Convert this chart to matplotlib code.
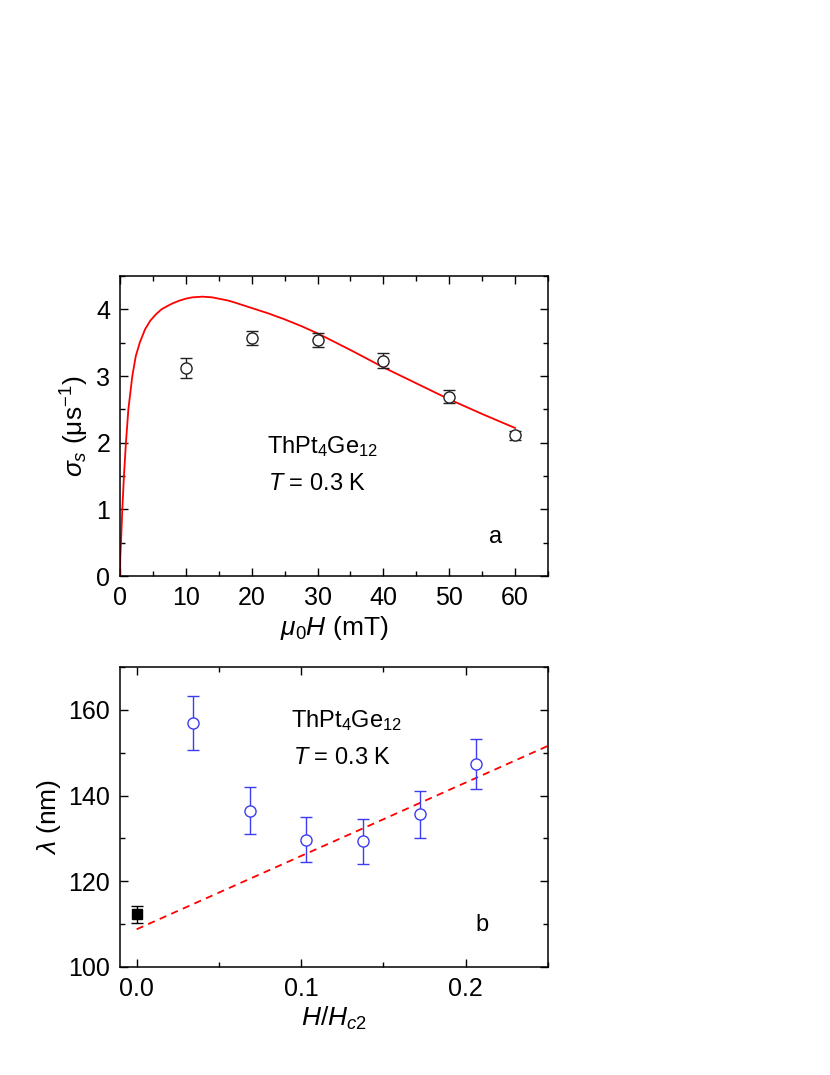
import numpy as np
import matplotlib
matplotlib.use('Agg')
import matplotlib.pyplot as plt
from matplotlib.ticker import MultipleLocator

plt.rcParams['font.family'] = ['Liberation Sans', 'DejaVu Sans']
plt.rcParams['mathtext.fontset'] = 'custom'
plt.rcParams['mathtext.rm'] = 'Liberation Sans'
plt.rcParams['mathtext.it'] = 'Liberation Sans:italic'

# panel a: sigma_s vs field
field = [10, 20, 30, 40, 50, 60]
sigma = [3.12, 3.57, 3.54, 3.23, 2.69, 2.11]
sigma_err = [0.15, 0.10, 0.11, 0.11, 0.10, 0.07]

# fitted curve
fit_x = [0, 0.05, 0.15, 0.35, 0.6, 0.9, 1.27, 1.87, 2.4, 3.0, 3.8, 4.6, 5.5, 6.3,
         7.2, 8, 9, 10, 11, 12.5, 14, 15, 16.5, 17.5, 20, 22.5, 25, 27.5, 30,
         35, 40, 45, 50, 55, 60]
fit_y = [0, 0.3, 0.5, 1.0, 1.5, 2.0, 2.5, 3.0, 3.3, 3.5, 3.7, 3.83, 3.93, 4.0,
         4.05, 4.09, 4.13, 4.16, 4.18, 4.19, 4.18, 4.16, 4.13, 4.1, 4.02, 3.94,
         3.85, 3.75, 3.64, 3.39, 3.13, 2.89, 2.65, 2.43, 2.22]

# panel b: lambda vs H/Hc2
h_ratio = [0.0344, 0.0688, 0.1032, 0.1377, 0.1725, 0.2065]
lam = [157.0, 136.5, 129.7, 129.3, 135.6, 147.4]
lam_err = [6.3, 5.5, 5.2, 5.2, 5.4, 5.9]
lam0_x = [0.0]
lam0 = [112.3]
lam0_err = [2.0]
line_x = [0.0, 0.25]
line_y = [108.8, 151.6]

fig = plt.figure(figsize=(8.3, 10.75), dpi=100)
W, H = 830, 1075
ax1 = fig.add_axes([120 / W, 1 - 576 / H, 428 / W, 300 / H])
ax2 = fig.add_axes([120 / W, 1 - 967 / H, 428 / W, 300 / H])

ax1.plot(fit_x, fit_y, color='red', lw=1.3)
ax1.errorbar(field, sigma, yerr=sigma_err, fmt='o', mfc='white', mec='#222222',
             color='#222222', ms=8, mew=1.0, elinewidth=1.0, capsize=4, capthick=1.0)
ax1.set_xlim(0, 65)
ax1.set_ylim(0, 4.5)
ax1.xaxis.set_major_locator(MultipleLocator(10))
ax1.xaxis.set_minor_locator(MultipleLocator(5))
ax1.yaxis.set_major_locator(MultipleLocator(1))
ax1.yaxis.set_minor_locator(MultipleLocator(0.5))
ax1.set_xlabel(r'$\mu_{\mathit{0}}H$ (mT)', fontsize=19, labelpad=3)
ax1.set_ylabel(r'$\sigma_s$ ($\mathrm{\mu s}^{-1}$)', fontsize=19, labelpad=4)
ax1.text(22.3, 1.85, r'ThPt$_4$Ge$_{12}$', fontsize=17)
ax1.text(22.5, 1.29, r'$T$ = 0.3 K', fontsize=17)
ax1.text(56.0, 0.5, 'a', fontsize=17)

ax2.plot(line_x, line_y, color='red', ls=(0, (4, 3)), lw=1.3)
ax2.errorbar(h_ratio, lam, yerr=lam_err, fmt='o', mfc='white', mec='#3c3cf0',
             color='#3c3cf0', ms=8, mew=1.0, elinewidth=1.0, capsize=4, capthick=1.0)
ax2.errorbar(lam0_x, lam0, yerr=lam0_err, fmt='s', mfc='black', mec='black',
             color='black', ms=7, elinewidth=1.0, capsize=4, capthick=1.0)
ax2.set_xlim(-0.0101, 0.25)
ax2.set_ylim(100, 170)
ax2.xaxis.set_major_locator(MultipleLocator(0.1))
ax2.xaxis.set_minor_locator(MultipleLocator(0.05))
ax2.yaxis.set_major_locator(MultipleLocator(20))
ax2.yaxis.set_minor_locator(MultipleLocator(10))
ax2.set_xlabel(r'$H/H_{\mathit{c2}}$', fontsize=19, labelpad=3)
ax2.set_ylabel(r'$\lambda$ (nm)', fontsize=19, labelpad=4)
ax2.text(0.094, 156.0, r'ThPt$_4$Ge$_{12}$', fontsize=17)
ax2.text(0.095, 147.3, r'$T$ = 0.3 K', fontsize=17)
ax2.text(0.206, 108.3, 'b', fontsize=17)

for ax in (ax1, ax2):
    ax.tick_params(which='both', direction='in', top=True, right=True, labelsize=18)
    ax.tick_params(which='major', length=6, width=1.0, pad=7)
    ax.tick_params(which='minor', length=3.5, width=1.0)
    for s in ax.spines.values():
        s.set_linewidth(1.1)

fig.savefig('out.png', dpi=100)
